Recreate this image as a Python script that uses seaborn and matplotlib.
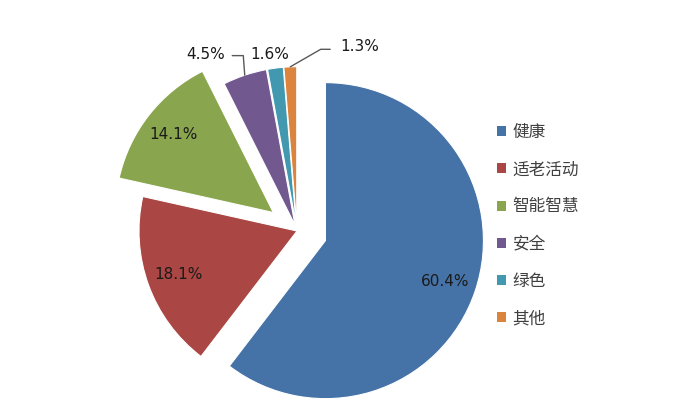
import numpy as np
import matplotlib
matplotlib.use("Agg")
import matplotlib.pyplot as plt
import matplotlib.patches as mpatches
import seaborn as sns

categories = ["健康", "适老活动", "智能智慧", "安全", "绿色", "其他"]
shares = [60.4, 18.1, 14.1, 4.5, 1.6, 1.3]
colors = ["#4572A7", "#AA4643", "#89A54E", "#71588F", "#4198AF", "#DB843D"]
explode = [0.19, 0.0, 0.19, 0.04, 0.04, 0.04]

sns.set_style("white")
plt.rcParams["font.family"] = ["DejaVu Sans", "Noto Sans CJK SC"]

fig = plt.figure(figsize=(6.85, 4.16), dpi=100)
ax = fig.add_axes([0, 0, 1, 1])

wedges, _ = ax.pie(shares, colors=colors, explode=explode, startangle=90,
                   counterclock=False, radius=1.0,
                   wedgeprops=dict(edgecolor="white", linewidth=0.8))

# place the pie centre at (297, 231) px with radius 158 px
r_px = 158.0
cx, cy = 297.0, 416 - 231.0
ax.set_aspect("equal")
ax.set_xlim(-cx / r_px, (685 - cx) / r_px)
ax.set_ylim(-cy / r_px, (416 - cy) / r_px)
ax.axis("off")

text_color = "#404040"
# inner labels for the big slices
for w, val, ex in zip(wedges, shares, explode):
    if val < 10:
        continue
    mid = np.deg2rad((w.theta1 + w.theta2) / 2)
    r = 0.8 + ex
    ax.text(r * np.cos(mid), r * np.sin(mid), f"{val}%", ha="center",
            va="center", fontsize=11, color="#1a1a1a")

# outside labels for the small slices (text position, elbow point)
outside = {3: ((-0.58, 1.12), (-0.34, 1.11)),
           4: ((-0.17, 1.12), None),
           5: ((0.40, 1.17), (0.15, 1.15))}
for i, (tpos, elbow) in outside.items():
    w = wedges[i]
    mid = np.deg2rad((w.theta1 + w.theta2) / 2)
    r = 1.0 + explode[i]
    px, py = r * np.cos(mid), r * np.sin(mid)
    if elbow is not None:
        ex_, ey_ = elbow
        if ex_ < px:
            ax.plot([px, ex_, ex_ - 0.07], [py, ey_, ey_], color="#595959", lw=1)
        else:
            ax.plot([px, ex_, ex_ + 0.06], [py, ey_, ey_], color="#595959", lw=1)
    ax.text(tpos[0], tpos[1], f"{shares[i]}%", ha="center", va="center",
            fontsize=11, color="#1a1a1a")

handles = [mpatches.Patch(facecolor=c, edgecolor="none", label=l)
           for c, l in zip(colors, categories)]
leg = fig.legend(handles=handles, loc="upper left", bbox_to_anchor=(0.703, 0.74),
                 frameon=False, fontsize=12, handlelength=0.55, handleheight=0.55,
                 handletextpad=0.4, labelspacing=1.15)
for t in leg.get_texts():
    t.set_color(text_color)

fig.savefig("out.png", dpi=100)
